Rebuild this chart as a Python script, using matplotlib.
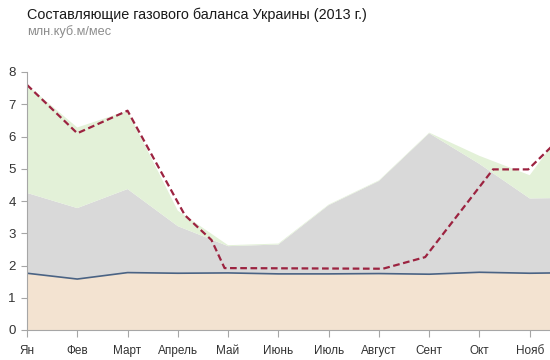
import matplotlib
matplotlib.use("Agg")
import matplotlib.pyplot as plt

plt.rcParams['font.family'] = ['Liberation Sans', 'DejaVu Sans']

# Данные (млн.куб.м/мес, 2013)
months = ['Ян', 'Фев', 'Март', 'Апрель', 'Май', 'Июнь', 'Июль',
          'Август', 'Сент', 'Окт', 'Нояб', 'Дек']
dobycha = [1.76, 1.58, 1.78, 1.76, 1.77, 1.74, 1.74, 1.75, 1.73, 1.79, 1.76, 1.78]
pkhg = [2.49, 2.20, 2.59, 1.46, 0.83, 0.91, 2.13, 2.87, 4.37, 3.36, 2.32, 2.32]
import_gas = [3.35, 2.50, 2.43, 0.48, 0.03, 0.03, 0.02, 0.02, 0.02, 0.25, 0.72, 2.80]
# пунктирная линия (позиции в долях месяца)
line_x = [0, 1, 2, 3.14, 3.67, 3.93, 7.08, 7.92, 9.27, 9.97, 11]
line_y = [7.6, 6.1, 6.8, 3.56, 2.79, 1.92, 1.9, 2.26, 4.98, 4.98, 6.55]

x = list(range(len(months)))

fig = plt.figure(figsize=(5.5, 3.6), dpi=100)
ax = fig.add_axes([27 / 550, 30 / 360, 553 / 550, 258 / 360])

ax.stackplot(x, dobycha, pkhg, import_gas,
             colors=['#f3e3d1', '#d9d9d9', '#e3f1d8'], linewidth=0)
ax.plot(x, dobycha, color='#4a6384', lw=1.2)
ax.plot(line_x, line_y, color='#9c2340', lw=1.6, ls=(0, (3, 1.6)))

ax.set_xlim(0, 11)
ax.set_ylim(0, 8)
ax.set_yticks(range(0, 9))
# декабрь уходит за край картинки - подпись не нужна
ax.set_xticks(x[:-1])
ax.set_xticklabels(months[:-1])

for s in ['top', 'right']:
    ax.spines[s].set_visible(False)
for s in ['left', 'bottom']:
    ax.spines[s].set_color('#a6a6a6')
    ax.spines[s].set_linewidth(0.8)
ax.tick_params(axis='y', length=4, color='#a6a6a6', labelsize=9.5,
               labelcolor='#333333', pad=4)
ax.tick_params(axis='x', length=5, color='#a6a6a6', labelsize=8.5,
               labelcolor='#333333', pad=6)

fig.text(27 / 550, 1 - 15 / 360, 'Составляющие газового баланса Украины (2013 г.)',
         fontsize=10.4, color='#1a1a1a', va='center', ha='left')
fig.text(27 / 550, 1 - 32 / 360, 'млн.куб.м/мес',
         fontsize=9.2, color='#8c8c8c', va='center', ha='left')

fig.savefig('out.png', dpi=100)
